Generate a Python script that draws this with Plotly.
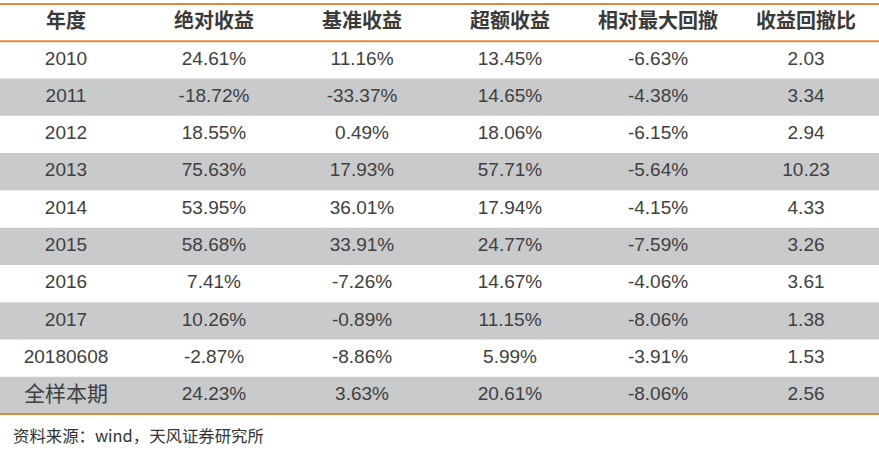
import plotly.graph_objects as go

headers = ['年度', '绝对收益', '基准收益', '超额收益', '相对最大回撤', '收益回撤比']
years = ['2010', '2011', '2012', '2013', '2014', '2015', '2016', '2017', '20180608', '全样本期']
abs_ret = ['24.61%', '-18.72%', '18.55%', '75.63%', '53.95%', '58.68%', '7.41%', '10.26%', '-2.87%', '24.23%']
bench_ret = ['11.16%', '-33.37%', '0.49%', '17.93%', '36.01%', '33.91%', '-7.26%', '-0.89%', '-8.86%', '3.63%']
excess_ret = ['13.45%', '14.65%', '18.06%', '57.71%', '17.94%', '24.77%', '14.67%', '11.15%', '5.99%', '20.61%']
max_dd = ['-6.63%', '-4.38%', '-6.15%', '-5.64%', '-4.15%', '-7.59%', '-4.06%', '-8.06%', '-3.91%', '-8.06%']
ret_dd = ['2.03', '3.34', '2.94', '10.23', '4.33', '3.26', '3.61', '1.38', '1.53', '2.56']
source = '资料来源：wind，天风证券研究所'

columns = [years, abs_ret, bench_ret, excess_ret, max_dd, ret_dd]
n_rows = len(years)

ORANGE = '#E2883A'
STRIPE = '#C9CACC'
TEXT = '#404040'
FONT = 'Liberation Sans, Noto Sans CJK SC, sans-serif'

fig = go.Figure()

# striped rows (every second data row)
for i in range(n_rows):
    if i % 2 == 1:
        fig.add_shape(type='rect', xref='paper', yref='y',
                      x0=0, x1=1, y0=i + 0.5, y1=i + 1.5,
                      fillcolor=STRIPE, line_width=0, layer='below')

# orange rules: top of header, under header, bottom of table
for yv in [-0.5, 0.5, n_rows + 0.5]:
    fig.add_shape(type='line', xref='paper', yref='y',
                  x0=0, x1=1, y0=yv, y1=yv,
                  line=dict(color=ORANGE, width=2))

# header text
fig.add_trace(go.Scatter(
    x=list(range(len(headers))), y=[0] * len(headers),
    mode='text', text=headers,
    textfont=dict(family='Noto Sans CJK SC', size=20, color='#3a3a3a', weight='bold'),
    hoverinfo='skip'))

# cell text
for c, col in enumerate(columns):
    sizes = [19] * n_rows
    fams = [FONT] * n_rows
    if c == 0:
        sizes[-1] = 21
        fams[-1] = 'Noto Sans CJK SC'
    fig.add_trace(go.Scatter(
        x=[c] * n_rows, y=list(range(1, n_rows + 1)),
        mode='text', text=col,
        textfont=dict(family=fams, size=sizes, color=TEXT),
        hoverinfo='skip'))

fig.add_annotation(
    x=0.012, y=-0.045, xref='paper', yref='paper',
    xanchor='left', yanchor='middle', showarrow=False,
    text=source, font=dict(family='Noto Sans CJK SC', size=16.4, color='#333333'))

pad = 0.054
fig.update_xaxes(range=[-0.446, 5.493], visible=False, fixedrange=True)
fig.update_yaxes(range=[n_rows + 0.5 + pad, -0.5 - pad], visible=False, fixedrange=True)

fig.update_layout(
    width=879, height=449,
    margin=dict(l=0, r=0, t=2, b=33),
    plot_bgcolor='white', paper_bgcolor='white',
    showlegend=False,
)

fig.write_html('out.html', config={'displayModeBar': False},
               post_script="document.body.style.margin='0';")
